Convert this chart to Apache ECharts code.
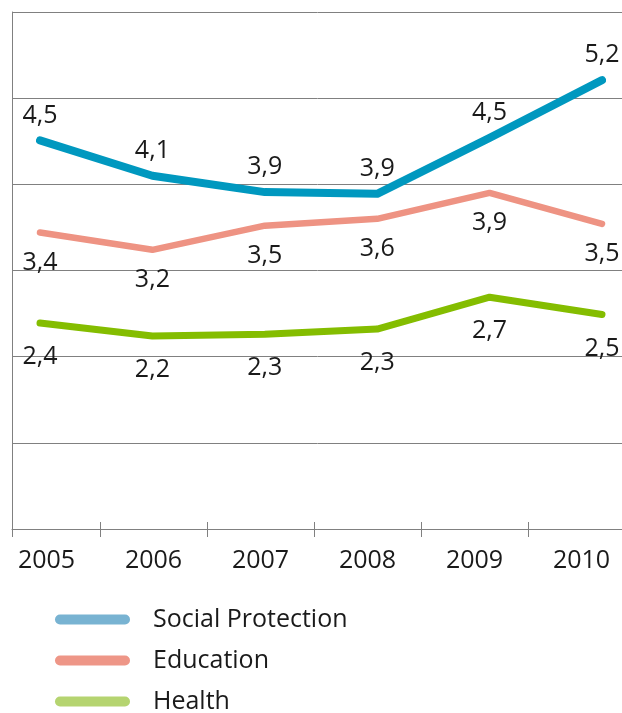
<!DOCTYPE html>
<html>
<head>
<meta charset="utf-8">
<script src="https://cdn.jsdelivr.net/npm/echarts@6/dist/echarts.min.js"></script>
<style>
html,body{margin:0;padding:0;background:#fff;}
#chart{width:622px;height:713px;}
</style>
</head>
<body>
<div id="chart"></div>
<script>
const years = ['2005', '2006', '2007', '2008', '2009', '2010'];
const seriesNames = ['Social Protection', 'Education', 'Health'];
const socialProtection = [4.51, 4.10, 3.91, 3.89, 4.54, 5.21];
const education = [3.44, 3.24, 3.52, 3.60, 3.90, 3.54];
const health = [2.39, 2.24, 2.26, 2.32, 2.69, 2.49];
const yMin = 0, yMax = 6, yStep = 1;

const FONT = 'Open Sans';
const TXT = '#1a1a1a';
const GRID = '#808080';
const lineColors = ['#0098bf', '#ee9383', '#84bd00'];
const legendColors = ['#78b3d2', '#ee9687', '#b5d470'];

const fmt = p => p.value.toFixed(1).replace('.', ',');
const chart = echarts.init(document.getElementById('chart'));

function lineSeries(name, data, idx, width, pos, dist) {
  return {
    name: name, type: 'line', data: data,
    xAxisIndex: 2, yAxisIndex: 2,
    symbol: 'circle', symbolSize: 1, showSymbol: true,
    itemStyle: { color: lineColors[idx] },
    lineStyle: { color: lineColors[idx], width: width, cap: 'round', join: 'round' },
    label: { show: true, position: pos, distance: dist, formatter: fmt,
      fontFamily: FONT, fontSize: 25, color: TXT },
    emphasis: { disabled: true },
    animation: false
  };
}

const iconPath = 'path://M5,0 H70 A5,5 0 0 1 70,10 H5 A5,5 0 0 1 5,0 Z';
const gridBase = { top: 12, bottom: 184, outerBoundsMode: 'none', containLabel: false };

chart.setOption({
  animation: false,
  grid: [
    Object.assign({ left: -7, right: -13 }, gridBase),
    Object.assign({ left: 12, right: -2 }, gridBase),
    Object.assign({ left: 40, right: 20 }, gridBase),
    Object.assign({ left: -7, right: -13 }, gridBase)
  ],
  xAxis: [
    { gridIndex: 0, type: 'category', data: years, boundaryGap: true,
      axisLine: { show: false },
      axisTick: { show: true, length: 8, lineStyle: { color: GRID, width: 1 } },
      axisLabel: { fontFamily: FONT, fontSize: 25, color: TXT, margin: 19 },
      splitLine: { show: false } },
    { gridIndex: 1, type: 'value', min: 0, max: 1, interval: 1,
      axisLine: { show: true, lineStyle: { color: GRID, width: 1 } },
      axisTick: { show: true, length: 8, lineStyle: { color: GRID, width: 1 } },
      axisLabel: { show: false }, splitLine: { show: false } },
    { gridIndex: 2, type: 'category', data: years, boundaryGap: false, show: false },
    { gridIndex: 3, type: 'category', data: years, boundaryGap: true,
      axisLine: { show: false },
      axisTick: { show: true, inside: true, length: 7, lineStyle: { color: GRID, width: 1 } },
      axisLabel: { show: false }, splitLine: { show: false } }
  ],
  yAxis: [
    { gridIndex: 0, type: 'value', min: yMin, max: yMax, interval: yStep, show: false },
    { gridIndex: 1, type: 'value', min: yMin, max: yMax, interval: yStep,
      axisLine: { show: true, lineStyle: { color: GRID, width: 1 } },
      axisTick: { show: false }, axisLabel: { show: false },
      splitLine: { show: true, lineStyle: { color: GRID, width: 1 } } },
    { gridIndex: 2, type: 'value', min: yMin, max: yMax, interval: yStep, show: false },
    { gridIndex: 3, type: 'value', min: yMin, max: yMax, interval: yStep, show: false }
  ],
  legend: {
    orient: 'vertical', left: 55, top: 607, height: 200, padding: 0,
    itemWidth: 75, itemHeight: 10, itemGap: 16,
    icon: iconPath,
    textStyle: { fontFamily: FONT, fontSize: 25, color: TXT, padding: [0, 0, 0, 18] },
    data: seriesNames.map((n, i) => ({ name: n, itemStyle: { color: legendColors[i] } })),
    selectedMode: false
  },
  series: [
    lineSeries(seriesNames[0], socialProtection, 0, 8, 'top', 12),
    lineSeries(seriesNames[1], education, 1, 6.5, 'bottom', 17),
    lineSeries(seriesNames[2], health, 2, 7, 'bottom', 21)
  ]
});
</script>
</body>
</html>
